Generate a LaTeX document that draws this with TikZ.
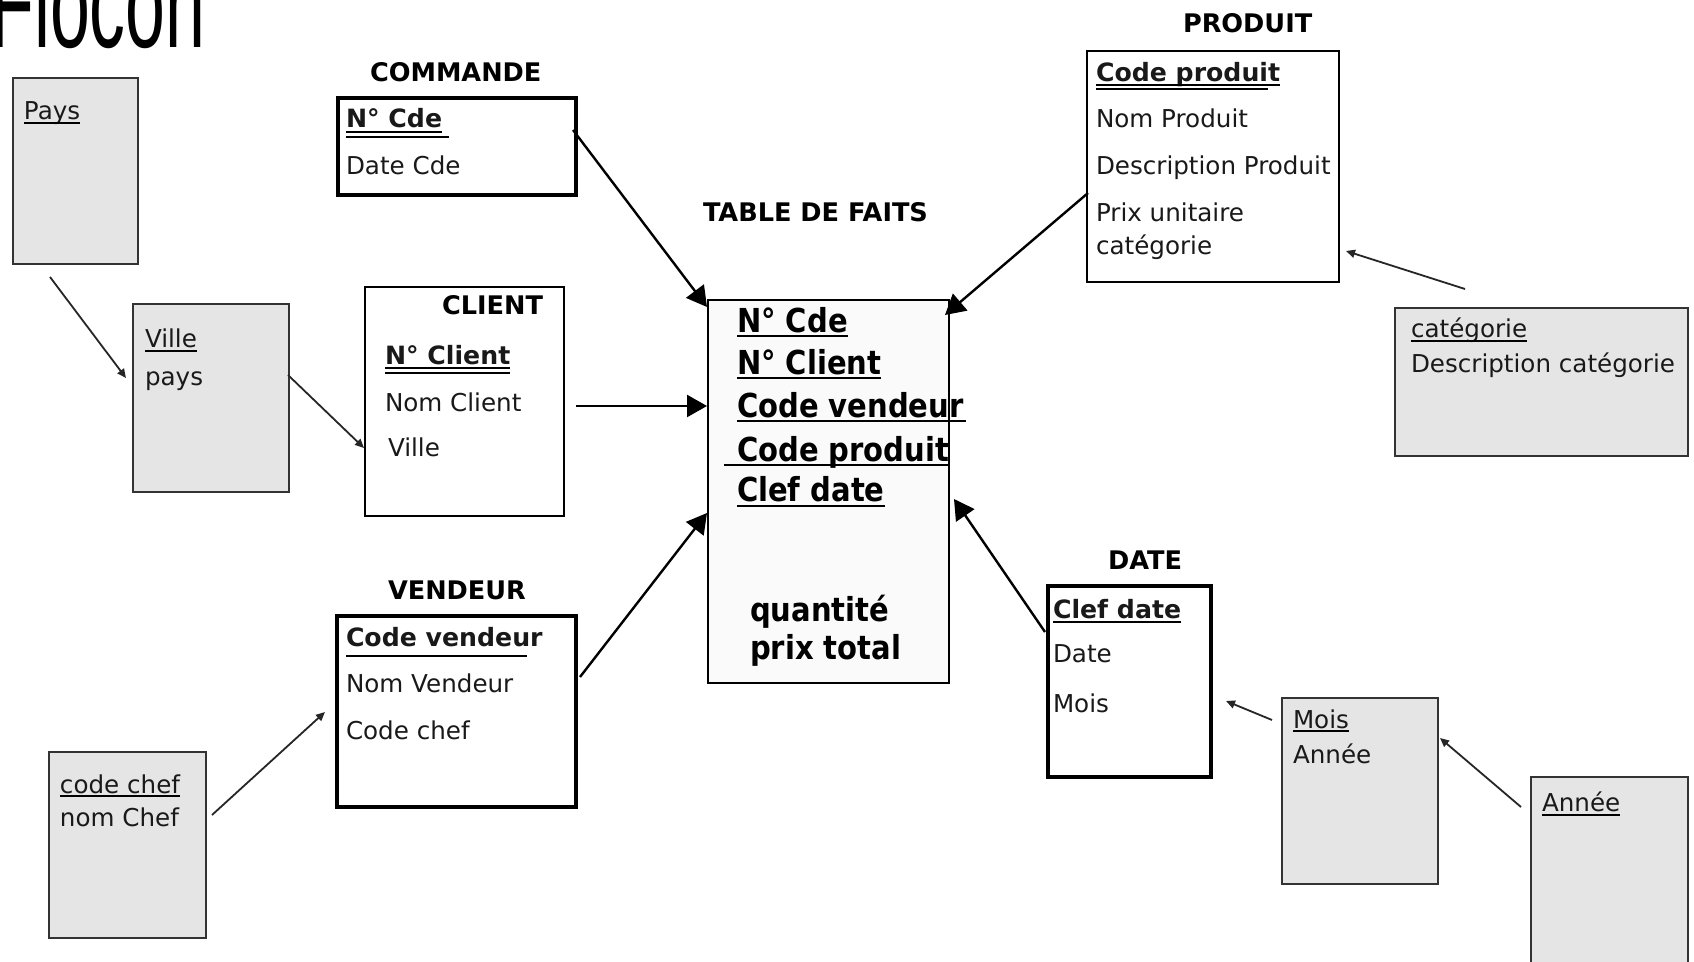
\documentclass[tikz,border=0pt]{standalone}
\usepackage{fontspec}
\setmainfont{DejaVu Sans}
\newfontfamily\factfont[FakeStretch=0.88]{DejaVu Sans}
\newfontfamily\titlefont[FakeStretch=0.56]{Liberation Sans}
\usetikzlibrary{arrows.meta,calc}

% underline drawn below a text node, offset in px below its baseline
\newcommand\ulfull[2][3]{\draw[ul] ($(#2.base west)+(0,#1)$) -- ($(#2.base east)+(0,#1)$);}

\begin{document}
\begin{tikzpicture}[x=0.5pt,y=-0.5pt,
  txt/.style={anchor=base west, inner sep=0pt, outer sep=0pt,
    font=\fontsize{12.3}{14}\selectfont, text=black!90},
  key/.style={txt, font=\fontsize{12.6}{14}\selectfont\bfseries},
  head/.style={txt, font=\fontsize{12.8}{14}\selectfont\bfseries, text=black},
  facttxt/.style={txt, font=\factfont\fontsize{16.5}{18}\selectfont\bfseries, text=black},
  dimbox/.style={rectangle, draw=black, line width=0.8pt, fill=white,
    anchor=north west, inner sep=0pt, outer sep=0pt},
  thickbox/.style={dimbox, line width=1.6pt},
  snowbox/.style={dimbox, draw=black!80, fill=black!10, line width=0.8pt},
  factbox/.style={dimbox, fill=black!2, line width=0.9pt},
  bigarrow/.style={line width=1.2pt, -{Triangle[length=10pt,width=11pt]}},
  smallarrow/.style={line width=0.9pt, draw=black!85, -{Triangle[length=4.5pt,width=4pt]}},
  ul/.style={line width=0.75pt},
  bul/.style={line width=1pt},
]
\useasboundingbox (0,0) rectangle (1694,962);
\clip (0,0) rectangle (1694,962);
\fill[white] (0,0) rectangle (1694,962);

% slide title, cut by the top edge
\node[anchor=base west, inner sep=0pt, font=\titlefont\fontsize{64}{64}\selectfont] (title) at (-10,48) {Flocon};

% ---------- boxes ----------
\node[snowbox, minimum width=62.5pt, minimum height=93pt] (pays) at (13,78) {};
\node[snowbox, minimum width=78pt, minimum height=94pt] (ville) at (133,304) {};
\node[dimbox, minimum width=99.5pt, minimum height=114.5pt] (client) at (365,287) {};
\node[thickbox, minimum width=119pt, minimum height=48.5pt] (cmd) at (338,98) {};
\node[factbox, minimum width=120.5pt, minimum height=191.5pt] (fact) at (708,300) {};
\node[dimbox, minimum width=126pt, minimum height=115.5pt] (prod) at (1087,51) {};
\node[snowbox, minimum width=146.5pt, minimum height=74pt] (cat) at (1395,308) {};
\node[thickbox, minimum width=81.5pt, minimum height=95.5pt] (date) at (1048,586) {};
\node[snowbox, minimum width=78pt, minimum height=93pt] (mois) at (1282,698) {};
\node[snowbox, minimum width=78.5pt, minimum height=111.5pt] (annee) at (1531,777) {};
\node[thickbox, minimum width=119.5pt, minimum height=95.5pt] (vend) at (337,616) {};
\node[snowbox, minimum width=78.5pt, minimum height=93pt] (chef) at (49,752) {};

% ---------- Pays ----------
\node[txt] (pays-k) at (24,120) {Pays};
\ulfull{pays-k}

% ---------- Ville ----------
\node[txt] (ville-k) at (145,348) {Ville};
\ulfull{ville-k}
\node[txt] (ville-a) at (145,386) {pays};

% ---------- CLIENT ----------
\node[head] (client-h) at (442,315) {CLIENT};
\node[key] (client-k) at (385,365) {N° Client};
\draw[bul] ($(client-k.base west)+(0,3)$) -- ($(client-k.base east)+(0,3)$);
\draw[bul] ($(client-k.base west)+(0,8)$) -- ($(client-k.base east)+(0,8)$);
\node[txt] (client-a) at (385,412) {Nom Client};
\node[txt] (client-b) at (388,457) {Ville};

% ---------- COMMANDE ----------
\node[head] (cmd-h) at (370,82) {COMMANDE};
\node[key] (cmd-k) at (346,128) {N° Cde};
\draw[bul] ($(cmd-k.base west)+(0,4)$) -- ($(cmd-k.base east)+(0,4)$);
\draw[bul] ($(cmd-k.base west)+(0,9)$) -- ++(103,0);
\node[txt] (cmd-a) at (346,175) {Date Cde};

% ---------- TABLE DE FAITS ----------
\node[head] (fact-h) at (703,222) {TABLE DE FAITS};
\node[facttxt] (f1) at (737,333) {N° Cde};
\node[facttxt] (f2) at (737,375) {N° Client};
\node[facttxt] (f3) at (737,418) {Code vendeur};
\node[facttxt] (f4) at (737,462) {Code produit};
\node[facttxt] (f5) at (737,502) {Clef date};
\node[facttxt] (f6) at (750,622) {quantité};
\node[facttxt] (f7) at (750,660) {prix total};
\draw[bul] ($(f1.base west)+(0,3)$) -- ($(f1.base east)+(0,3)$);
\draw[bul] ($(f2.base west)+(0,3)$) -- ($(f2.base east)+(0,3)$);
\draw[bul] ($(f3.base west)+(0,3)$) -- ($(f3.base east)+(2,3)$);
\draw[bul] ($(f4.base west)+(-13,3)$) -- ($(f4.base east)+(0,3)$);
\draw[bul] ($(f5.base west)+(0,4)$) -- ($(f5.base east)+(0,4)$);

% ---------- PRODUIT ----------
\node[head] (prod-h) at (1183,33) {PRODUIT};
\node[key] (prod-k) at (1096,82) {Code produit};
\draw[bul] ($(prod-k.base west)+(0,3)$) -- ($(prod-k.base east)+(0,3)$);
\draw[bul] ($(prod-k.base west)+(0,7)$) -- ++(172,0);
\node[txt] (prod-a) at (1096,128) {Nom Produit};
\node[txt] (prod-b) at (1096,175) {Description Produit};
\node[txt] (prod-c) at (1096,222) {Prix unitaire};
\node[txt] (prod-d) at (1096,255) {catégorie};

% ---------- catégorie ----------
\node[txt] (cat-k) at (1411,338) {catégorie};
\ulfull{cat-k}
\node[txt] (cat-a) at (1411,373) {Description catégorie};

% ---------- DATE ----------
\node[head] (date-h) at (1108,570) {DATE};
\node[key] (date-k) at (1053,619) {Clef date};
\draw[bul] ($(date-k.base west)+(0,3)$) -- ($(date-k.base east)+(0,3)$);
\node[txt] (date-a) at (1053,663) {Date};
\node[txt] (date-b) at (1053,712) {Mois};

% ---------- Mois ----------
\node[txt] (mois-k) at (1293,728) {Mois};
\ulfull{mois-k}
\node[txt] (mois-a) at (1293,763) {Année};

% ---------- Année ----------
\node[txt] (annee-k) at (1542,812) {Année};
\ulfull{annee-k}

% ---------- VENDEUR ----------
\node[head] (vend-h) at (388,600) {VENDEUR};
\node[key] (vend-k) at (346,647) {Code vendeur};
\draw[bul] ($(vend-k.base west)+(0,9)$) -- ++(181,0);
\node[txt] (vend-a) at (346,693) {Nom Vendeur};
\node[txt] (vend-b) at (346,740) {Code chef};

% ---------- chef ----------
\node[txt] (chef-k) at (60,793) {code chef};
\ulfull{chef-k}
\node[txt] (chef-a) at (60,827) {nom Chef};

% ---------- snowflake links ----------
\draw[smallarrow] ($(pays.south west)+(37,13)$) -- ($(ville.north west)+(-7,74)$);
\draw[smallarrow] ($(ville.north east)+(-1,71)$) -- ($(client.north west)+(-1,161)$);
\draw[smallarrow] ($(chef.north east)+(6,63)$) -- ($(vend.north west)+(-12,96)$);
\draw[smallarrow] ($(cat.north west)+(70,-19)$) -- ($(prod.south east)+(7,-31)$);
\draw[smallarrow] ($(mois.north west)+(-10,22)$) -- ($(date.north east)+(15,115)$);
\draw[smallarrow] ($(annee.north west)+(-10,30)$) -- ($(mois.north east)+(2,40)$);

% ---------- links to the fact table ----------
\draw[bigarrow] ($(cmd.north east)+(-3,32)$) -- ($(fact.north west)+(-1,7)$);
\draw[bigarrow] ($(client.north east)+(12,119)$) -- ($(fact.north west)+(-1,106)$);
\draw[bigarrow] ($(vend.north east)+(4,61)$) -- ($(fact.north west)+(-1,213)$);
\draw[bigarrow] ($(prod.north west)+(1,142)$) -- ($(fact.north east)+(-4,15)$);
\draw[bigarrow] ($(date.north west)+(-3,46)$) -- ($(fact.north east)+(5,199)$);
\end{tikzpicture}
\end{document}
